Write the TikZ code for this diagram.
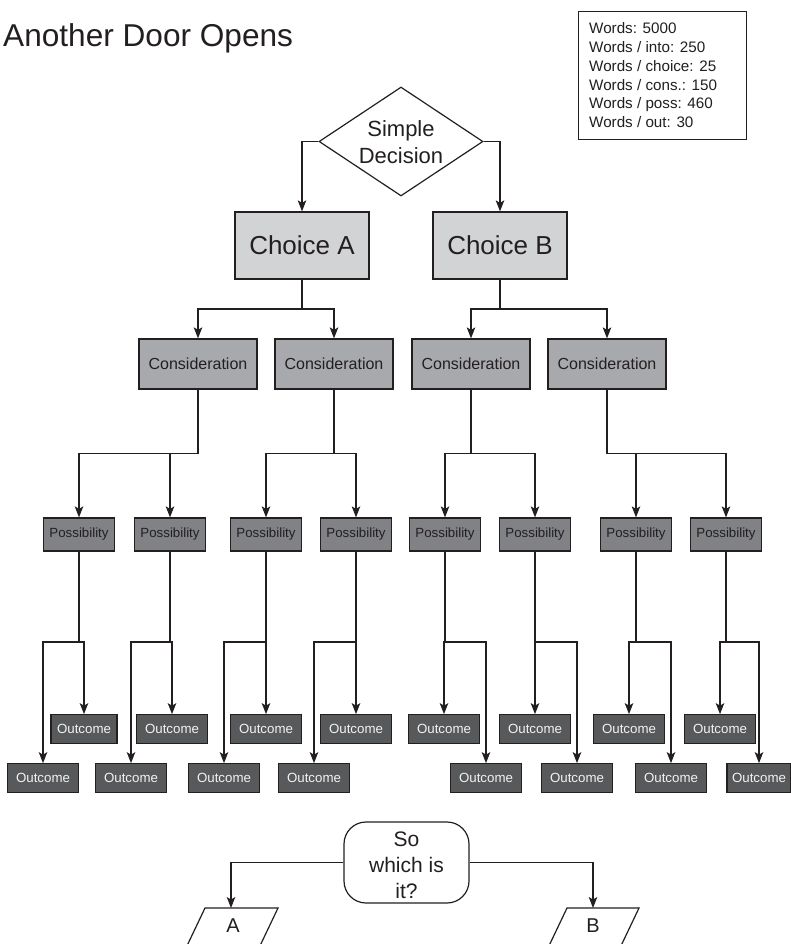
\documentclass[tikz,border=0pt]{standalone}
\usepackage{fontspec}
\setmainfont{Liberation Sans}
\usetikzlibrary{arrows.meta,shapes.geometric}

\definecolor{ink}{HTML}{231F20}
\definecolor{choicefill}{HTML}{D1D3D4}
\definecolor{consfill}{HTML}{A7A9AC}
\definecolor{possfill}{HTML}{808285}
\definecolor{outfill}{HTML}{58595B}
\definecolor{outtext}{HTML}{F1F2F2}

\tikzset{
  conn/.style={draw=ink, line width=1.2pt},
  arr/.style={conn, -{Stealth[length=11pt,width=8.5pt,inset=2.5pt]}},
  box/.style={rectangle, draw=ink, line width=1.2pt, inner sep=0pt, text=ink},
  choicebox/.style={box, fill=choicefill, minimum width=134pt, minimum height=67pt,
    font=\fontsize{26}{30}\selectfont},
  consbox/.style={box, fill=consfill, minimum width=118pt, minimum height=50pt,
    font=\fontsize{16}{19}\selectfont},
  possbox/.style={box, fill=possfill, minimum width=71pt, minimum height=33pt,
    font=\fontsize{13.3}{15}\selectfont},
  outbox/.style={box, fill=outfill, minimum width=71pt, minimum height=28.5pt,
    font=\fontsize{13.3}{15}\selectfont, text=outtext},
  plain/.style={inner sep=0pt, text=ink},
}

\begin{document}
\begin{tikzpicture}[x=1pt,y=-1pt]
\useasboundingbox (0,0) rectangle (791,944);
\clip (0,0) rectangle (791,944);
\fill[white] (0,0) rectangle (791,944);

% heading
\node[plain, anchor=base west, font=\fontsize{31.6}{36}\selectfont] (title) at (3,47) {Another Door Opens};

% word budget
\node[box, minimum width=168pt, minimum height=128pt, anchor=north west] (wbox) at (578,11) {};
\node[plain, anchor=north west, align=left, font=\fontsize{15.2}{18.8}\selectfont] (wtext) at (589,22.5)
  {Words: 5000\\Words / into: 250\\Words / choice: 25\\Words / cons.: 150\\Words / poss: 460\\Words / out: 30};

% decision
\node[diamond, draw=ink, line width=1.2pt, minimum width=164pt, minimum height=109pt, inner sep=0pt] (dec) at (401,141.5) {};
\node[plain, align=center, font=\fontsize{22}{27}\selectfont] (dectext) at (401,142) {Simple\\Decision};

% choices
\node[choicebox] (chA) at (302,245.5) {Choice A};
\node[choicebox] (chB) at (500,245.5) {Choice B};
\draw[arr] (dec.west) -| (chA.north);
\draw[arr] (dec.east) -| (chB.north);

% considerations
\node[consbox] (c1) at (198,364) {Consideration};
\node[consbox] (c2) at (334,364) {Consideration};
\node[consbox] (c3) at (471,364) {Consideration};
\node[consbox] (c4) at (607,364) {Consideration};
\coordinate (ja) at (302,309);
\coordinate (jb) at (500,309);
\draw[conn] (chA.south) -- (ja);
\draw[arr] (ja) -| (c1.north);
\draw[arr] (ja) -| (c2.north);
\draw[conn] (chB.south) -- (jb);
\draw[arr] (jb) -| (c3.north);
\draw[arr] (jb) -| (c4.north);

% possibilities
\foreach \n/\x in {1/79,2/170,3/266,4/356,5/445,6/535,7/636,8/726}
  \node[possbox] (p\n) at (\x,534.5) {Possibility};
\foreach \c/\x/\a/\b in {1/198/1/2,2/334/3/4,3/471/5/6,4/607/7/8}{
  \coordinate (m\c) at (\x,453.5);
  \draw[conn] (c\c.south) -- (m\c);
  \draw[arr] (m\c) -| (p\a.north);
  \draw[arr] (m\c) -| (p\b.north);
}

% outcomes, upper row
\node[outbox, minimum width=66pt] (u1) at (84,729) {Outcome};
\foreach \n/\x in {2/172,3/266,4/356,5/444,6/535,7/629,8/720}
  \node[outbox] (u\n) at (\x,729) {Outcome};
% outcomes, lower row
\foreach \n/\x in {1/43,2/131,3/224,4/314,5/486,6/577,7/671}
  \node[outbox] (l\n) at (\x,778) {Outcome};
\node[outbox, minimum width=64pt] (l8) at (759,778) {Outcome};

\foreach \n/\x in {1/79,2/170,3/266,4/356,5/445,6/535,7/636,8/726}{
  \coordinate (k\n) at (\x,642);
  \draw[conn] (p\n.south) -- (k\n);
  \draw[arr] (k\n) -| (u\n.north);
  \draw[arr] (k\n) -| (l\n.north);
}

% final question
\node[rectangle, rounded corners=22pt, draw=ink, line width=1.2pt, minimum width=125pt, minimum height=81pt, inner sep=0pt] (ask) at (406.5,862.5) {};
\node[plain, align=center, font=\fontsize{21}{26}\selectfont] (asktext) at (406.5,865.5) {So\\which is\\it?};

% answers
\draw[conn, line join=miter] (205,908) -- (278,908) -- (258,950) -- (185,950) -- cycle;
\draw[conn, line join=miter] (567,908) -- (639,908) -- (619,950) -- (547,950) -- cycle;
\node[plain, font=\fontsize{20}{24}\selectfont] (ansA) at (233,926) {A};
\node[plain, font=\fontsize{20}{24}\selectfont] (ansB) at (593,926) {B};
\coordinate (topA) at (231,908);
\coordinate (topB) at (593,908);
\draw[arr] (ask.west) -| (topA);
\draw[arr] (ask.east) -| (topB);
\end{tikzpicture}
\end{document}
